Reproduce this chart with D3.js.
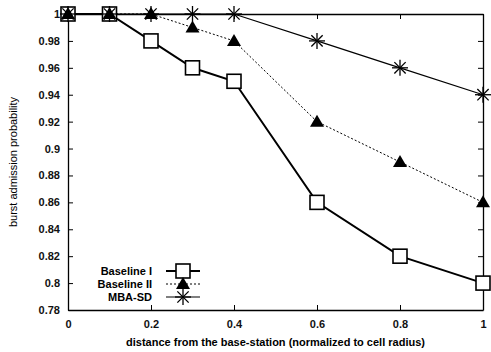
<!DOCTYPE html>
<html>
<head>
<meta charset="utf-8">
<script src="https://cdn.jsdelivr.net/npm/d3@7"></script>
<style>
  body { margin: 0; background: #fff; }
  svg { display: block; }
  .tick text { font: bold 11px "Liberation Sans", Arial, sans-serif; fill: #111; }
</style>
</head>
<body>
<div id="chart"></div>
<script>
const distances = [0, 0.1, 0.2, 0.3, 0.4, 0.6, 0.8, 1];
const baseline1 = [1, 1, 0.98, 0.96, 0.95, 0.86, 0.82, 0.80];
const baseline2 = [1, 1, 1, 0.99, 0.98, 0.92, 0.89, 0.86];
const mbaSd = [1, 1, 1, 1, 1, 0.98, 0.96, 0.94];
const xTicks = [0, 0.2, 0.4, 0.6, 0.8, 1];
const yTicks = [0.78, 0.8, 0.82, 0.84, 0.86, 0.88, 0.9, 0.92, 0.94, 0.96, 0.98, 1];
const seriesNames = ["Baseline I", "Baseline II", "MBA-SD"];

const width = 491, height = 352;
const margin = {top: 14, right: 8, bottom: 42, left: 68};

const svg = d3.select("#chart").append("svg")
  .attr("width", width)
  .attr("height", height);

const x = d3.scaleLinear().domain([0, 1]).range([margin.left, width - margin.right]);
const y = d3.scaleLinear().domain([0.78, 1]).range([height - margin.bottom, margin.top]);

const fmt = d => d === 1 ? "1" : d === 0 ? "0" : String(d);

// axes, ticks point inward
svg.append("g")
  .attr("transform", `translate(0,${y(0.78)})`)
  .call(d3.axisBottom(x).tickValues(xTicks).tickFormat(fmt).tickSizeInner(-5).tickSizeOuter(0).tickPadding(10))
  .call(g => g.select(".domain").attr("stroke-width", 1.3));

svg.append("g")
  .attr("transform", `translate(0,${y(1)})`)
  .call(d3.axisTop(x).tickValues(xTicks).tickFormat("").tickSizeInner(-5).tickSizeOuter(0))
  .call(g => g.select(".domain").attr("stroke-width", 1.3));

svg.append("g")
  .attr("transform", `translate(${x(0)},0)`)
  .call(d3.axisLeft(y).tickValues(yTicks).tickFormat(fmt).tickSizeInner(-5).tickSizeOuter(0).tickPadding(8))
  .call(g => g.select(".domain").attr("stroke-width", 1.3));

svg.append("g")
  .attr("transform", `translate(${x(1)},0)`)
  .call(d3.axisRight(y).tickValues(yTicks).tickFormat("").tickSizeInner(-5).tickSizeOuter(0))
  .call(g => g.select(".domain").attr("stroke-width", 1.3));

// axis titles
svg.append("text")
  .attr("x", (x(0) + x(1)) / 2)
  .attr("y", height - 6)
  .attr("text-anchor", "middle")
  .style("font", "bold 11px 'Liberation Sans', Arial, sans-serif")
  .text("distance from the base-station (normalized to cell radius)");

svg.append("text")
  .attr("transform", `translate(17,${(y(0.78) + y(1)) / 2}) rotate(-90)`)
  .attr("text-anchor", "middle")
  .style("font", "11px 'Liberation Sans', Arial, sans-serif")
  .text("burst admission probability");

const line = d3.line().x(d => x(d[0])).y(d => y(d[1]));

const series = [
  {name: seriesNames[0], values: baseline1, width: 2, dash: null, marker: "square"},
  {name: seriesNames[1], values: baseline2, width: 1, dash: "2,2", marker: "triangle"},
  {name: seriesNames[2], values: mbaSd, width: 1.2, dash: null, marker: "star"}
];

function drawMarker(g, type, cx, cy) {
  if (type === "square") {
    g.append("rect").attr("x", cx - 7).attr("y", cy - 7).attr("width", 14).attr("height", 14)
      .attr("fill", "#fff").attr("stroke", "#000").attr("stroke-width", 1.6);
  } else if (type === "triangle") {
    g.append("path").attr("d", `M${cx},${cy - 7}L${cx + 7},${cy + 5}L${cx - 7},${cy + 5}Z`)
      .attr("fill", "#000");
  } else {
    const r = 8;
    for (let a = 0; a < 4; a++) {
      const t = a * Math.PI / 4;
      g.append("line")
        .attr("x1", cx - r * Math.cos(t)).attr("y1", cy - r * Math.sin(t))
        .attr("x2", cx + r * Math.cos(t)).attr("y2", cy + r * Math.sin(t))
        .attr("stroke", "#000").attr("stroke-width", 1.3);
    }
  }
}

series.forEach(s => {
  const pts = distances.map((d, i) => [d, s.values[i]]);
  svg.append("path")
    .datum(pts)
    .attr("d", line)
    .attr("fill", "none")
    .attr("stroke", "#000")
    .attr("stroke-width", s.width)
    .attr("stroke-dasharray", s.dash);
});

// markers in series order: squares, then triangles, then stars on top
series.forEach(s => {
  const g = svg.append("g");
  distances.forEach((d, i) => drawMarker(g, s.marker, x(d), y(s.values[i])));
});

// legend
const legend = svg.append("g");
series.forEach((s, i) => {
  const ly = 271 + i * 13;
  legend.append("text")
    .attr("x", 152).attr("y", ly + 4)
    .attr("text-anchor", "end")
    .style("font", "bold 11px 'Liberation Sans', Arial, sans-serif")
    .text(s.name);
  legend.append("line")
    .attr("x1", 166).attr("x2", 200).attr("y1", ly).attr("y2", ly)
    .attr("stroke", "#000").attr("stroke-width", s.width)
    .attr("stroke-dasharray", s.dash);
  drawMarker(legend, s.marker, 183, ly);
});
</script>
</body>
</html>
